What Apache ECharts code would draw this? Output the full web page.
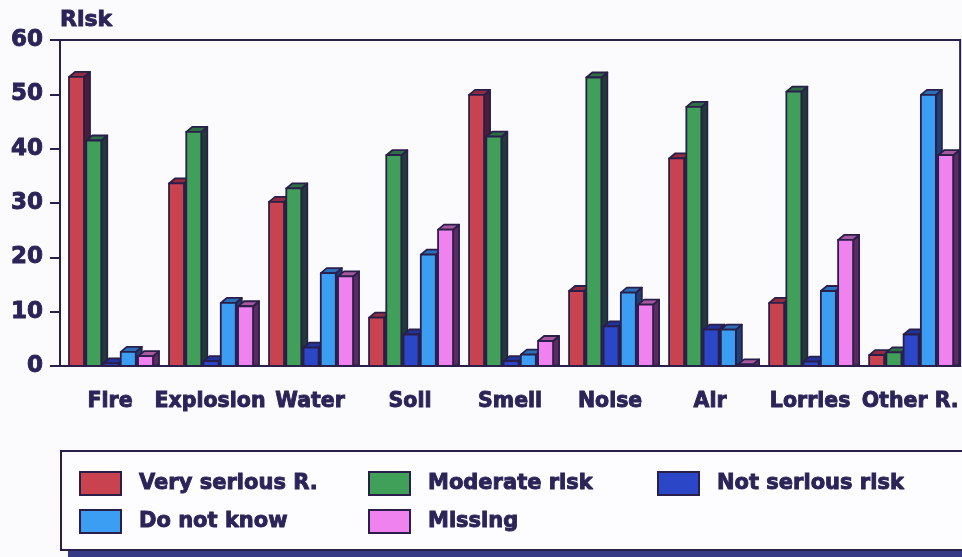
<!DOCTYPE html>
<html>
<head>
<meta charset="utf-8">
<script src="https://cdn.jsdelivr.net/npm/echarts@6/dist/echarts.min.js"></script>
<style>
  html, body { margin: 0; padding: 0; background: #fbfbfd; }
  #chart { width: 962px; height: 557px; }
</style>
</head>
<body>
<div id="chart"></div>
<script>
// Perceived risk by source, percentage of respondents per answer
const categories = ['Fire', 'Explosion', 'Water', 'Soil', 'Smell', 'Noise', 'Air', 'Lorries', 'Other R.'];
const seriesNames = ['Very serious R.', 'Moderate risk', 'Not serious risk', 'Do not know', 'Missing'];
const verySerious = [53.2, 33.6, 30.2, 8.9, 49.9, 13.8, 38.2, 11.6, 2.0];
const moderateRisk = [41.5, 43.1, 32.7, 38.8, 42.2, 53.1, 47.7, 50.5, 2.5];
const notSerious = [0.5, 0.9, 3.4, 5.8, 0.9, 7.3, 6.7, 0.8, 5.8];
const doNotKnow = [2.6, 11.6, 17.1, 20.5, 2.1, 13.5, 6.7, 13.8, 49.9];
const missing = [1.8, 11.0, 16.5, 25.1, 4.6, 11.3, 0.3, 23.2, 38.8];
const yTicks = { min: 0, max: 60, interval: 10 };

const seriesValues = [verySerious, moderateRisk, notSerious, doNotKnow, missing];
const colors = ['#c9424f', '#40a05a', '#2b47c8', '#3b9ef2', '#ef82ee'];
const capColors = ['#8e2c40', '#2d6e45', '#22339a', '#2b6fb8', '#a8589e'];
const sideColors = ['#4a1d38', '#1e3d35', '#1b2268', '#1e3f78', '#5a2a60'];
const ink = '#2a2458';
const outline = '#2a1f4a';

// legend swatch positions [left, top]
const legendSpots = [[79, 471], [368, 471], [657, 471], [79, 509], [368, 509]];

const chart = echarts.init(document.getElementById('chart'), null, { renderer: 'canvas' });

// Each bar is drawn as a box: front face, top cap and right side
function makeRenderer(k) {
  return function (params, api) {
    const idx = api.value(0);
    const v = api.value(1);
    const band = api.size([1, 0])[0];
    const base = api.coord([idx, 0]);
    const top = api.coord([idx, v]);
    const slot = band * 0.1725;
    const w = band * 0.15;
    const dx = band * 0.06;
    const dy = 5;
    const x0 = base[0] - band * 0.41 + k * slot;
    const y0 = top[1];
    const y1 = base[1];
    const stroke = { stroke: outline, lineWidth: 1.8, lineJoin: 'round' };
    return {
      type: 'group',
      children: [
        {
          type: 'polygon',
          shape: { points: [[x0 + w, y0], [x0 + w + dx, y0 - dy], [x0 + w + dx, y1 - 1], [x0 + w, y1]] },
          style: Object.assign({ fill: sideColors[k] }, stroke)
        },
        {
          type: 'polygon',
          shape: { points: [[x0, y0], [x0 + dx, y0 - dy], [x0 + w + dx, y0 - dy], [x0 + w, y0]] },
          style: Object.assign({ fill: capColors[k] }, stroke)
        },
        {
          type: 'rect',
          shape: { x: x0, y: y0, width: w, height: y1 - y0 },
          style: Object.assign({ fill: colors[k] }, stroke)
        }
      ]
    };
  };
}

const series = seriesNames.map(function (name, k) {
  return {
    name: name,
    type: 'custom',
    renderItem: makeRenderer(k),
    itemStyle: { color: colors[k] },
    encode: { x: 0, y: 1 },
    data: seriesValues[k].map(function (v, i) { return [i, v]; }),
    z: 3
  };
});

const heavyText = {
  fontFamily: 'DejaVu Sans',
  fontWeight: 'bold',
  color: ink,
  textBorderColor: ink,
  textBorderWidth: 0.9
};

const legends = seriesNames.map(function (name, k) {
  return {
    left: legendSpots[k][0],
    top: legendSpots[k][1],
    data: [name],
    orient: 'horizontal',
    icon: 'rect',
    itemWidth: 41,
    itemHeight: 23,
    itemGap: 0,
    padding: 0,
    z: 5,
    selectedMode: false,
    itemStyle: { borderColor: outline, borderWidth: 2 },
    textStyle: Object.assign({ fontSize: 21, padding: [0, 0, 0, 13] }, heavyText)
  };
});

const option = {
  backgroundColor: '#fbfbfd',
  animation: false,
  title: {
    text: 'Risk',
    left: 60,
    top: 9,
    padding: 0,
    textStyle: Object.assign({ fontSize: 22 }, heavyText)
  },
  graphic: [
    // shadow strip beneath the legend panel
    { type: 'rect', left: 68, top: 549, shape: { width: 900, height: 10 }, style: { fill: '#363a86' }, z: 0 },
    // legend panel
    { type: 'rect', left: 60, top: 450, shape: { width: 910, height: 99 }, style: { fill: '#fdfdff', stroke: outline, lineWidth: 2 }, z: 1 }
  ],
  legend: legends,
  grid: {
    left: 60,
    right: 1,
    top: 40,
    bottom: 191,
    show: true,
    borderColor: outline,
    borderWidth: 2,
    backgroundColor: 'transparent'
  },
  xAxis: {
    type: 'category',
    data: categories,
    boundaryGap: true,
    axisLine: { lineStyle: { color: outline, width: 2 } },
    axisTick: { alignWithLabel: true, length: 10, lineStyle: { color: outline, width: 2 } },
    axisLabel: Object.assign({ margin: 25, fontSize: 20.5, interval: 0 }, heavyText),
    splitLine: { show: false }
  },
  yAxis: {
    type: 'value',
    min: yTicks.min,
    max: yTicks.max,
    interval: yTicks.interval,
    axisLine: { show: true, lineStyle: { color: outline, width: 2 } },
    axisTick: { show: true, length: 10, lineStyle: { color: outline, width: 2 } },
    axisLabel: Object.assign({ margin: 17, fontSize: 23 }, heavyText),
    splitLine: { show: false }
  },
  series: series
};

chart.setOption(option);
</script>
</body>
</html>
